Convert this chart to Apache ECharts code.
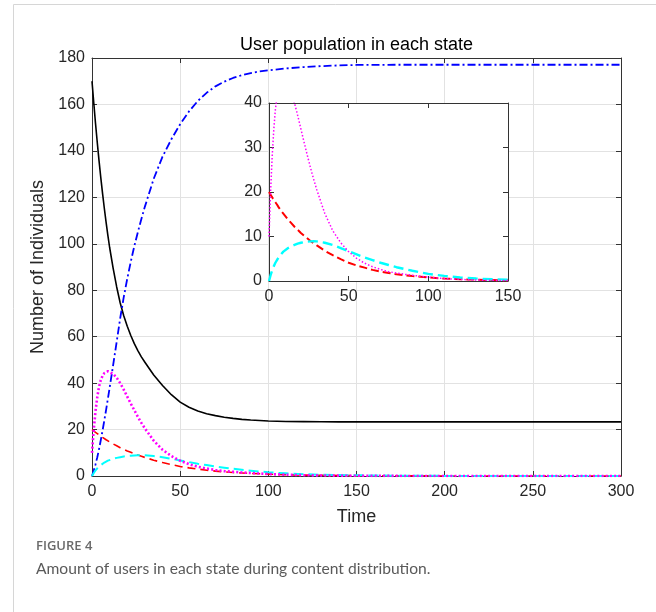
<!DOCTYPE html>
<html>
<head>
<meta charset="utf-8">
<script src="https://cdn.jsdelivr.net/npm/echarts@6/dist/echarts.min.js"></script>
<style>
html,body{margin:0;padding:0;background:#fff;}
#chart{width:656px;height:612px;}
</style>
</head>
<body>
<div id="chart"></div>
<script>
// ---- data ----
var time =  [0,1,2,3,4,5,6,7,8,9,10, 12,14,16,18,20,22,24,26,28,30, 35,40,45,50,55,60,65,70,75,80,85,90,95,100, 110,120,130,140,150, 175,200,250,300];
var userS = [170,160.7,151.8,143.5,135.7,128.4,121.6,115.2,109.2,103.6,98.4, 89.4,81.4,74.5,69,64.5,60.5,57,54,51.3,49, 43.5,39,35,31.8,29.6,28,26.8,26,25.3,24.8,24.4,24.1,23.9,23.7, 23.5,23.4,23.35,23.3,23.3, 23.3,23.3,23.3,23.3];
var userR = [0,2.4,5,8.1,11.6,15.5,19.6,24,28.5,33.2,38, 47.8,57.8,68,77,85,92.3,99,105,110.7,116, 128,137.5,145,151.5,157,161.5,165,167.8,169.8,171.4,172.6,173.5,174.2,174.7, 175.5,176.1,176.5,176.8,177, 177.1,177.1,177.1,177.1];
var userI = [10,20,28,34,38.5,41.3,43.2,44.3,44.9,45.1,45, 44,42.3,40,37.2,34.2,31.2,28.3,25.5,22.9,20.5, 15.2,11.3,8.6,6.6,5.1,4,3.2,2.6,2.1,1.8,1.5,1.3,1.05,0.85, 0.55,0.35,0.22,0.15,0.1, 0.03,0,0,0];
var userE = [20,19.4,18.8,18.2,17.7,17.2,16.6,16.1,15.6,15.2,14.7, 13.8,13,12.2,11.5,10.8,10.2,9.6,9,8.5,8, 6.8,5.8,4.9,4.1,3.5,3,2.5,2.1,1.8,1.5,1.3,1.1,0.95,0.8, 0.55,0.4,0.3,0.22,0.15, 0.07,0.03,0,0];
var userD = [0,1.3,2.4,3.3,4.1,4.7,5.3,5.8,6.2,6.6,6.9, 7.4,7.8,8.1,8.4,8.6,8.75,8.85,8.9,8.92,8.9, 8.6,8.1,7.4,6.7,6,5.3,4.7,4.1,3.6,3.1,2.7,2.3,1.95,1.6, 1.15,0.8,0.55,0.4,0.3, 0.12,0.05,0.01,0];

var mainXTicks = {min: 0, max: 300, interval: 50};
var mainYTicks = {min: 0, max: 180, interval: 20};
var insetXTicks = {min: 0, max: 150, interval: 50};
var insetYTicks = {min: 0, max: 40, interval: 10};

var titleText = 'User population in each state';
var xName = 'Time';
var yName = 'Number of Individuals';
var figLabel = 'FIGURE 4';
var figCaption = 'Amount of users in each state during content distribution.';

function pairs(ys, xmax) {
  var out = [];
  for (var i = 0; i < time.length; i++) {
    if (time[i] <= xmax) out.push([time[i], ys[i]]);
  }
  return out;
}

var FONT = '"Liberation Sans", Arial, Helvetica, sans-serif';
var AX = '#333333';
var LBL = '#262626';
var GRIDC = '#e2e2e2';

function axisDef(kind, gi, ticks, pos, showLabels, fs, z, split) {
  return {
    type: 'value', gridIndex: gi, position: pos,
    min: ticks.min, max: ticks.max, interval: ticks.interval,
    z: z,
    axisLine: {show: true, onZero: false, lineStyle: {color: AX, width: 1}},
    axisTick: {show: true, inside: true, length: 5, lineStyle: {color: AX}},
    axisLabel: {show: showLabels, color: LBL, fontFamily: FONT, fontSize: fs, margin: kind === 'x' ? 8 : 7},
    splitLine: {show: split, lineStyle: {color: GRIDC, width: 1}}
  };
}

var xAxes = [
  axisDef('x', 0, mainXTicks, 'bottom', true, 16, 0, true),
  axisDef('x', 0, mainXTicks, 'top', false, 16, 0, false),
  axisDef('x', 1, insetXTicks, 'bottom', true, 16, 11, false),
  axisDef('x', 1, insetXTicks, 'top', false, 16, 11, false)
];
xAxes[0].name = xName;
xAxes[0].nameLocation = 'middle';
xAxes[0].nameGap = 32;
xAxes[0].nameTextStyle = {color: LBL, fontFamily: FONT, fontSize: 18};
xAxes[1].name = titleText;
xAxes[1].nameLocation = 'middle';
xAxes[1].nameGap = 4;
xAxes[1].nameTextStyle = {color: '#000', fontFamily: FONT, fontSize: 18};

var yAxes = [
  axisDef('y', 0, mainYTicks, 'left', true, 16, 0, true),
  axisDef('y', 0, mainYTicks, 'right', false, 16, 0, false),
  axisDef('y', 1, insetYTicks, 'left', true, 16, 11, false),
  axisDef('y', 1, insetYTicks, 'right', false, 16, 11, false)
];
yAxes[0].name = yName;
yAxes[0].nameLocation = 'middle';
yAxes[0].nameGap = 36;
yAxes[0].nameRotate = 90;
yAxes[0].nameTextStyle = {color: LBL, fontFamily: FONT, fontSize: 18};

function line(name, data, xi, yi, color, width, type, z) {
  return {
    name: name, type: 'line', xAxisIndex: xi, yAxisIndex: yi,
    data: data, showSymbol: false, symbol: 'none',
    smooth: false,
    z: z, animation: false, clip: true,
    lineStyle: {color: color, width: width, type: type, cap: 'butt', join: 'round'}
  };
}

var series = [
  line('S', pairs(userS, 300), 0, 0, '#000000', 1.6, 'solid', 2),
  line('R', pairs(userR, 300), 0, 0, '#0000ff', 1.8, [8, 3, 2, 3], 2),
  line('E', pairs(userE, 300), 0, 0, '#ff0000', 1.6, [8, 5], 2),
  line('D', pairs(userD, 300), 0, 0, '#00ffff', 2, [10, 5], 2),
  line('I', pairs(userI, 300), 0, 0, '#ff00ff', 2.6, [2, 2.2], 3),
  line('E2', pairs(userE, 150), 2, 2, '#ff0000', 2, [8, 4], 12),
  line('D2', pairs(userD, 150), 2, 2, '#00ffff', 2.4, [10, 5], 12),
  line('I2', pairs(userI, 150), 2, 2, '#ff00ff', 1.5, [1.5, 2], 12)
];

var chart = echarts.init(document.getElementById('chart'), null, {renderer: 'canvas'});
chart.setOption({
  animation: false,
  backgroundColor: '#ffffff',
  grid: [
    {left: 92, top: 58, width: 529, height: 418, containLabel: false},
    {left: 269, top: 103, width: 239, height: 178, show: true, backgroundColor: '#ffffff', borderWidth: 0, z: 10}
  ],
  xAxis: xAxes,
  yAxis: yAxes,
  series: series,
  graphic: [
    {type: 'rect', silent: true, shape: {x: 13.5, y: 4.5, width: 660, height: 640},
     style: {fill: 'none', stroke: '#d6d6d6', lineWidth: 1}},
    {type: 'text', left: 36, top: 540, silent: true,
     style: {text: figLabel, fill: '#6a6a6a', font: '600 13px "Open Sans", sans-serif'}},
    {type: 'text', left: 36, top: 561, silent: true,
     style: {text: figCaption, fill: '#5a5a5a', font: '15.6px Lato, sans-serif'}}
  ]
});
</script>
</body>
</html>
